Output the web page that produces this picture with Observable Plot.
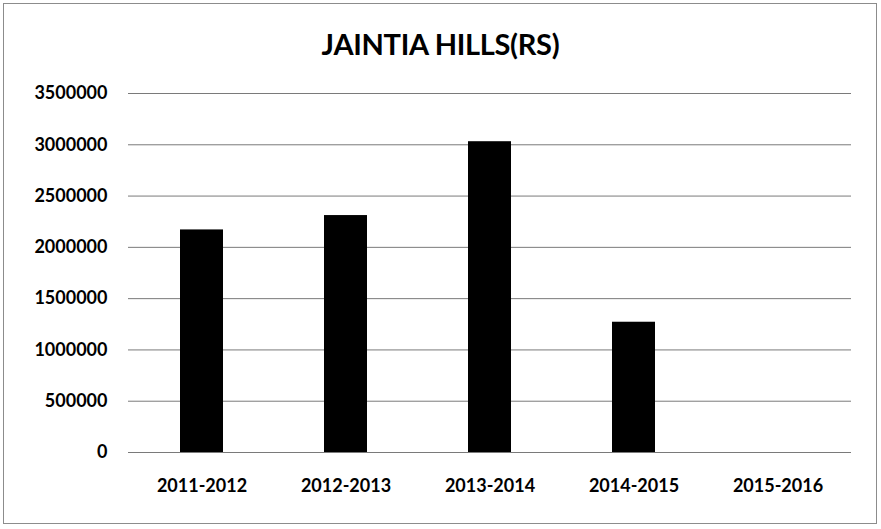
<!DOCTYPE html>
<html>
<head>
<meta charset="utf-8">
<script src="https://cdn.jsdelivr.net/npm/d3@7"></script>
<script src="https://cdn.jsdelivr.net/npm/@observablehq/plot@0.6"></script>
<style>
  html, body { margin: 0; padding: 0; background: #fff; }
  #wrap { position: relative; width: 881px; height: 529px; overflow: hidden; font-family: Lato, "Liberation Sans", sans-serif; }
  #frame { position: absolute; left: 3px; top: 3px; width: 872px; height: 519px; border: 1px solid #8c8c8c; pointer-events: none; }
  #title { position: absolute; left: 0; top: 25px; width: 881px; text-align: center; font-size: 29px; line-height: 38px; font-weight: bold; color: #000; letter-spacing: -0.3px; }
  #chart { position: absolute; left: 0; top: 70px; width: 881px; }
</style>
</head>
<body>
<div id="wrap">
  <div id="title">JAINTIA HILLS(RS)</div>
  <div id="chart"></div>
  <div id="frame"></div>
</div>
<script>
const years = ["2011-2012", "2012-2013", "2013-2014", "2014-2015", "2015-2016"];
const amounts = [2170000, 2310000, 3030000, 1270000, 0];
const yTicks = [0, 500000, 1000000, 1500000, 2000000, 2500000, 3000000, 3500000];

const data = years.map((y, i) => ({year: y, value: amounts[i]}));

const chart = Plot.plot({
  width: 881,
  height: 459,
  marginTop: 23,
  marginBottom: 77,
  marginLeft: 128,
  marginRight: 30,
  style: {fontFamily: "Lato, 'Liberation Sans', sans-serif", fontSize: "18px", fontWeight: "bold", color: "#000", background: "transparent"},
  x: {domain: years, paddingInner: 0.7, paddingOuter: 0.35, label: null},
  y: {domain: [0, 3500000], label: null},
  marks: [
    Plot.ruleY(yTicks, {stroke: "#7a7a7a", strokeWidth: 1}),
    Plot.barY(data, {x: "year", y: "value", fill: "#000"}),
    Plot.axisY({ticks: yTicks, tickSize: 0, tickPadding: 21, tickFormat: d => String(d), label: null}),
    Plot.axisX({tickSize: 0, tickPadding: 27, label: null})
  ]
});
document.getElementById("chart").appendChild(chart);
</script>
</body>
</html>
